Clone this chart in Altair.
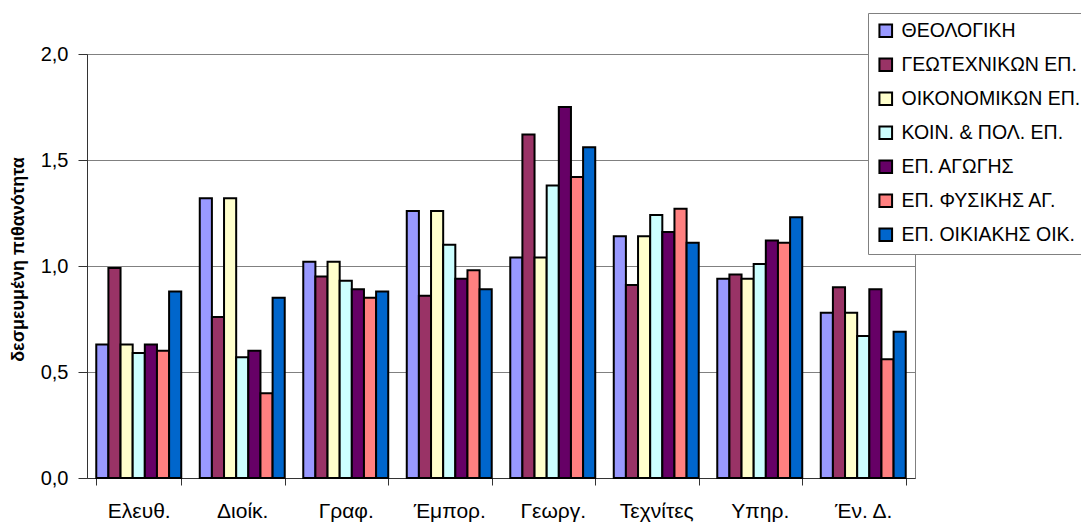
import altair as alt
import pandas as pd

categories = ["Ελευθ.", "Διοίκ.", "Γραφ.", "Έμπορ.", "Γεωργ.", "Τεχνίτες", "Υπηρ.", "Έν. Δ."]
series = ["ΘΕΟΛΟΓΙΚΗ", "ΓΕΩΤΕΧΝΙΚΩΝ ΕΠ.", "ΟΙΚΟΝΟΜΙΚΩΝ ΕΠ.", "ΚΟΙΝ. & ΠΟΛ. ΕΠ.",
          "ΕΠ. ΑΓΩΓΗΣ", "ΕΠ. ΦΥΣΙΚΗΣ ΑΓ.", "ΕΠ. ΟΙΚΙΑΚΗΣ ΟΙΚ."]
colors = ["#9999FF", "#993366", "#FFFFCC", "#CCFFFF", "#660066", "#FF8080", "#0066CC"]

theologiki   = [0.63, 1.32, 1.02, 1.26, 1.04, 1.14, 0.94, 0.78]
geotechnikon = [0.99, 0.76, 0.95, 0.86, 1.62, 0.91, 0.96, 0.90]
oikonomikon  = [0.63, 1.32, 1.02, 1.26, 1.04, 1.14, 0.94, 0.78]
koin_pol     = [0.59, 0.57, 0.93, 1.10, 1.38, 1.24, 1.01, 0.67]
agogis       = [0.63, 0.60, 0.89, 0.94, 1.75, 1.16, 1.12, 0.89]
fysikis      = [0.60, 0.40, 0.85, 0.98, 1.42, 1.27, 1.11, 0.56]
oikiakis     = [0.88, 0.85, 0.88, 0.89, 1.56, 1.11, 1.23, 0.69]

values = [theologiki, geotechnikon, oikonomikon, koin_pol, agogis, fysikis, oikiakis]
rows = []
for s, vals in zip(series, values):
    for c, v in zip(categories, vals):
        rows.append({"cat": c, "series": s, "value": v})
df = pd.DataFrame(rows)

FONT = "Liberation Sans"

chart = alt.Chart(df).mark_bar(stroke="black", strokeWidth=2).encode(
    x=alt.X("cat:N", sort=categories, title=None,
            scale=alt.Scale(paddingInner=0.179, paddingOuter=0.0895),
            axis=alt.Axis(labelAngle=0, tickBand="extent", labelFontSize=21,
                          labelFont=FONT, labelColor="black", tickColor="#333333",
                          tickSize=7, domainColor="#333333", labelPadding=15,
                          labelBaseline="top", grid=False)),
    xOffset=alt.XOffset("series:N", sort=series),
    y=alt.Y("value:Q", title="δεσμευμένη πιθανότητα",
            scale=alt.Scale(domain=[0, 2], nice=False),
            axis=alt.Axis(values=[0, 0.5, 1, 1.5, 2],
                          labelExpr="replace(format(datum.value, '.1f'), '.', ',')",
                          labelFontSize=20, labelFont=FONT, labelColor="black",
                          tickColor="#333333", tickSize=9, domainColor="#333333",
                          gridColor="#808080", gridWidth=1, labelPadding=10,
                          titleFont=FONT, titleFontSize=18, titleFontWeight="bold",
                          titleColor="black", titleX=-64, titleY=205,
                          titleBaseline="alphabetic", titleAngle=270)),
    color=alt.Color("series:N", sort=series,
                    scale=alt.Scale(domain=series, range=colors),
                    legend=alt.Legend(title=None, orient="none", legendX=781, legendY=-41,
                                      symbolType="square", symbolSize=160,
                                      symbolStrokeColor="black", symbolStrokeWidth=2,
                                      labelFontSize=19.5, labelFont=FONT, labelColor="black",
                                      labelOffset=6, rowPadding=12, padding=8,
                                      strokeColor="#808080",
                                      fillColor="white", labelLimit=400)),
).properties(
    width=828, height=424,
    autosize=alt.AutoSizeParams(type="none"),
    padding={"left": 79, "top": 46, "right": 166, "bottom": 45},
).configure_view(stroke="#808080", strokeWidth=1)

chart.save("out.html", embed_options={"renderer": "svg", "actions": False})
